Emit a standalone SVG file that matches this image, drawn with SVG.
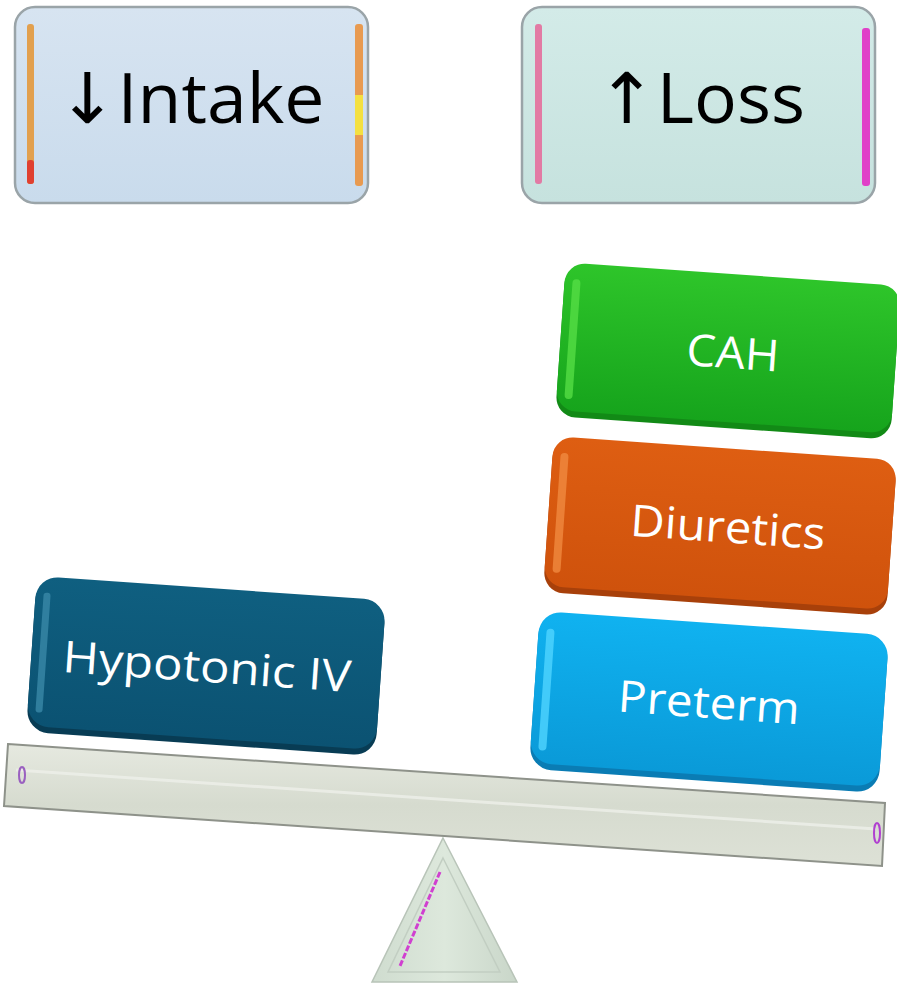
<svg xmlns="http://www.w3.org/2000/svg" width="897" height="984" viewBox="0 0 897 984">
<style>
.lbl{font-family:"Open Sans","Noto Sans","DejaVu Sans",sans-serif;text-anchor:middle}
.big{font-size:70px;fill:#000}
.wt{font-size:44px;fill:#fff}
.top{stroke:#9aa4a8;stroke-width:2.5}
</style>
<defs>
<linearGradient id="gIntake" x1="0" y1="0" x2="0" y2="1"><stop offset="0" stop-color="#d7e4f1"/><stop offset="1" stop-color="#c9dbec"/></linearGradient>
<linearGradient id="gLoss" x1="0" y1="0" x2="0" y2="1"><stop offset="0" stop-color="#d3ebe8"/><stop offset="1" stop-color="#c6e2de"/></linearGradient>
<linearGradient id="gGreen" x1="0" y1="0" x2="0" y2="1"><stop offset="0" stop-color="#2ec52a"/><stop offset="1" stop-color="#16a41c"/></linearGradient>
<linearGradient id="gOrange" x1="0" y1="0" x2="0" y2="1"><stop offset="0" stop-color="#de5e12"/><stop offset="1" stop-color="#cf520c"/></linearGradient>
<linearGradient id="gBlue" x1="0" y1="0" x2="0" y2="1"><stop offset="0" stop-color="#10b2f0"/><stop offset="1" stop-color="#0a9ad8"/></linearGradient>
<linearGradient id="gTeal" x1="0" y1="0" x2="0" y2="1"><stop offset="0" stop-color="#0f5f80"/><stop offset="1" stop-color="#0b5272"/></linearGradient>
<linearGradient id="gBeam" x1="0" y1="0" x2="0" y2="1"><stop offset="0" stop-color="#e6e9e0"/><stop offset="0.5" stop-color="#d6dbcf"/><stop offset="1" stop-color="#dde1d6"/></linearGradient>
<linearGradient id="gTri" x1="0" y1="0" x2="1" y2="0"><stop offset="0" stop-color="#cfdccf"/><stop offset="0.5" stop-color="#dde8dc"/><stop offset="1" stop-color="#c9d6c9"/></linearGradient>
</defs>

<g id="intake">
<rect x="15" y="7" width="353" height="196" rx="20" fill="url(#gIntake)" class="top"/>
<rect x="27" y="24" width="7" height="160" rx="3" fill="#e2a04e"/>
<rect x="27" y="160" width="7" height="24" rx="3" fill="#e04030"/>
<rect x="355" y="24" width="8" height="162" rx="3" fill="#e89a50"/>
<rect x="355" y="95" width="8" height="40" fill="#f4e040"/>
<text class="lbl big" x="191" y="123" textLength="267" lengthAdjust="spacingAndGlyphs">↓Intake</text>
</g>

<g id="loss">
<rect x="522" y="7" width="353" height="196" rx="20" fill="url(#gLoss)" class="top"/>
<rect x="535" y="24" width="7" height="160" rx="3" fill="#e27aa4"/>
<rect x="862" y="28" width="8" height="158" rx="3" fill="#e040c8"/>
<text class="lbl big" x="701" y="123" textLength="208" lengthAdjust="spacingAndGlyphs">↑Loss</text>
</g>

<g id="cah" transform="translate(728,352) rotate(4)">
<rect x="-168" y="-76" width="336" height="152" rx="20" fill="#128a16"/>
<rect x="-168" y="-78" width="336" height="148" rx="20" fill="url(#gGreen)"/>
<rect x="-160" y="-62" width="8" height="120" rx="4" fill="#55dd45" opacity="0.8"/>
<text class="lbl wt" x="5" y="16" textLength="93" lengthAdjust="spacingAndGlyphs">CAH</text>
</g>

<g id="diuretics" transform="translate(720,526) rotate(4)">
<rect x="-172" y="-76" width="344" height="154" rx="20" fill="#a8400a"/>
<rect x="-172" y="-78" width="344" height="150" rx="20" fill="url(#gOrange)"/>
<rect x="-164" y="-62" width="8" height="120" rx="4" fill="#f08a40" opacity="0.8"/>
<text class="lbl wt" x="8" y="16" textLength="195" lengthAdjust="spacingAndGlyphs">Diuretics</text>
</g>

<g id="preterm" transform="translate(709,702) rotate(4)">
<rect x="-175" y="-77" width="350" height="156" rx="22" fill="#0a7cb4"/>
<rect x="-175" y="-79" width="350" height="152" rx="22" fill="url(#gBlue)"/>
<rect x="-167" y="-62" width="8" height="122" rx="4" fill="#50d4ff" opacity="0.8"/>
<text class="lbl wt" x="0" y="16" textLength="182" lengthAdjust="spacingAndGlyphs">Preterm</text>
</g>

<g id="hypotonic" transform="translate(206,666) rotate(4)">
<rect x="-175" y="-76" width="350" height="154" rx="22" fill="#083c54"/>
<rect x="-175" y="-78" width="350" height="150" rx="22" fill="url(#gTeal)"/>
<rect x="-167" y="-62" width="7" height="120" rx="3" fill="#3a88a8" opacity="0.8"/>
<text class="lbl wt" x="1" y="16" textLength="289" lengthAdjust="spacingAndGlyphs">Hypotonic IV</text>
</g>

<g id="fulcrum">
<polygon points="443,838 517,982 372,982" fill="url(#gTri)" stroke="#b8c4b8" stroke-width="1.5"/>
<polygon points="443,858 500,972 388,972" fill="none" stroke="#c2cec2" stroke-width="1.5"/>
<line x1="440" y1="872" x2="400" y2="966" stroke="#d040d0" stroke-width="3" stroke-dasharray="6 2"/>
</g>

<g id="beam">
<polygon points="8,744 885,803 882,866 4,806" fill="url(#gBeam)" stroke="#8e928a" stroke-width="2"/>
<line x1="16" y1="770" x2="876" y2="829" stroke="#eef0ea" stroke-width="3" opacity="0.8"/>
<ellipse cx="22" cy="775" rx="3" ry="8" fill="none" stroke="#9a60c0" stroke-width="2"/>
<ellipse cx="877" cy="833" rx="3" ry="10" fill="none" stroke="#b040d0" stroke-width="2"/>
</g>
</svg>
